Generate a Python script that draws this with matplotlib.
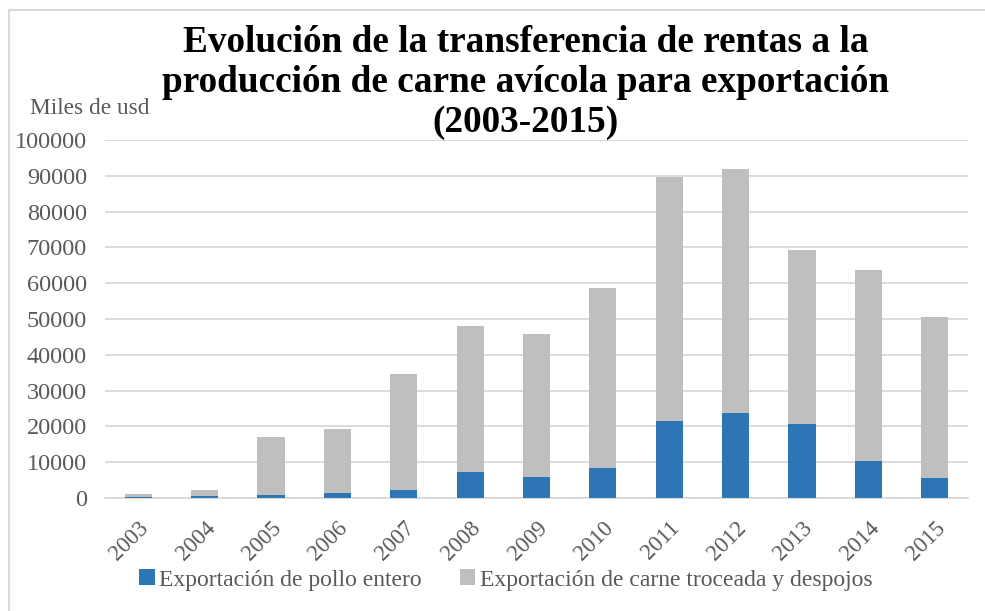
import matplotlib
matplotlib.use("Agg")
import matplotlib.pyplot as plt
import numpy as np
from matplotlib.lines import Line2D

years = ["2003", "2004", "2005", "2006", "2007", "2008", "2009", "2010",
         "2011", "2012", "2013", "2014", "2015"]
pollo_entero = [400, 650, 920, 1300, 2300, 7350, 5950, 8300,
                21600, 23650, 20600, 10250, 5700]
carne_troceada = [600, 1500, 16030, 17900, 32300, 40650, 39850, 50400,
                  68100, 68250, 48700, 53450, 44900]

blue = "#2E75B6"
gray = "#BFBFBF"
txt = "#595959"

plt.rcParams['font.family'] = ['Liberation Serif', 'DejaVu Serif']

fig = plt.figure(figsize=(9.85, 6.11), dpi=100)
ax = fig.add_axes([105/985, 1-498/611, (968-105)/985, (498-140)/611])

x = np.arange(len(years))
w = 0.41
ax.bar(x, pollo_entero, w, color=blue, label="Exportación de pollo entero", zorder=3)
ax.bar(x, carne_troceada, w, bottom=pollo_entero, color=gray,
       label="Exportación de carne troceada y despojos", zorder=3)

ax.set_xlim(-0.5, len(years)-0.5)
ax.set_ylim(0, 100000)
ax.set_yticks(np.arange(0, 100001, 10000))
ax.set_yticklabels([str(v) for v in range(0, 100001, 10000)])
ax.grid(axis='y', color='#D9D9D9', linewidth=1.3, zorder=0)
for s in ['top', 'right', 'left']:
    ax.spines[s].set_visible(False)
ax.spines['bottom'].set_color('#D9D9D9')
ax.spines['bottom'].set_linewidth(1.3)
ax.tick_params(axis='both', length=0, colors=txt)
ax.tick_params(axis='y', pad=13, labelsize=17.5)
ax.set_xticks(x)
ax.set_xticklabels(years, rotation=45, ha='right', rotation_mode='anchor')
ax.tick_params(axis='x', pad=14, labelsize=16.5)

fig.text(90/985, 1-108/611, "Miles de usd", ha='center', va='center',
         color=txt, fontsize=16.8)

title_lines = ["Evolución de la transferencia de rentas a la",
               "producción de carne avícola para exportación",
               "(2003-2015)"]
for i, line in enumerate(title_lines):
    fig.text(526/985, 1-(42+40*i)/611, line, ha='center', va='center',
             fontsize=26.8, fontweight='bold', color='black')

leg = fig.legend(loc='center', bbox_to_anchor=(506/985, 1-580/611), ncol=2,
                 frameon=False, fontsize=17, handlelength=0.65, handleheight=0.65,
                 handletextpad=0.2, columnspacing=1.6)
for t in leg.get_texts():
    t.set_color(txt)

# outer border (left and top visible)
fig.add_artist(Line2D([9/985, 9/985], [0, 1-10/611], color='#D9D9D9', lw=1.5,
                      transform=fig.transFigure))
fig.add_artist(Line2D([9/985, 1], [1-10/611, 1-10/611], color='#D9D9D9', lw=1.5,
                      transform=fig.transFigure))

fig.savefig("out.png", dpi=100)
